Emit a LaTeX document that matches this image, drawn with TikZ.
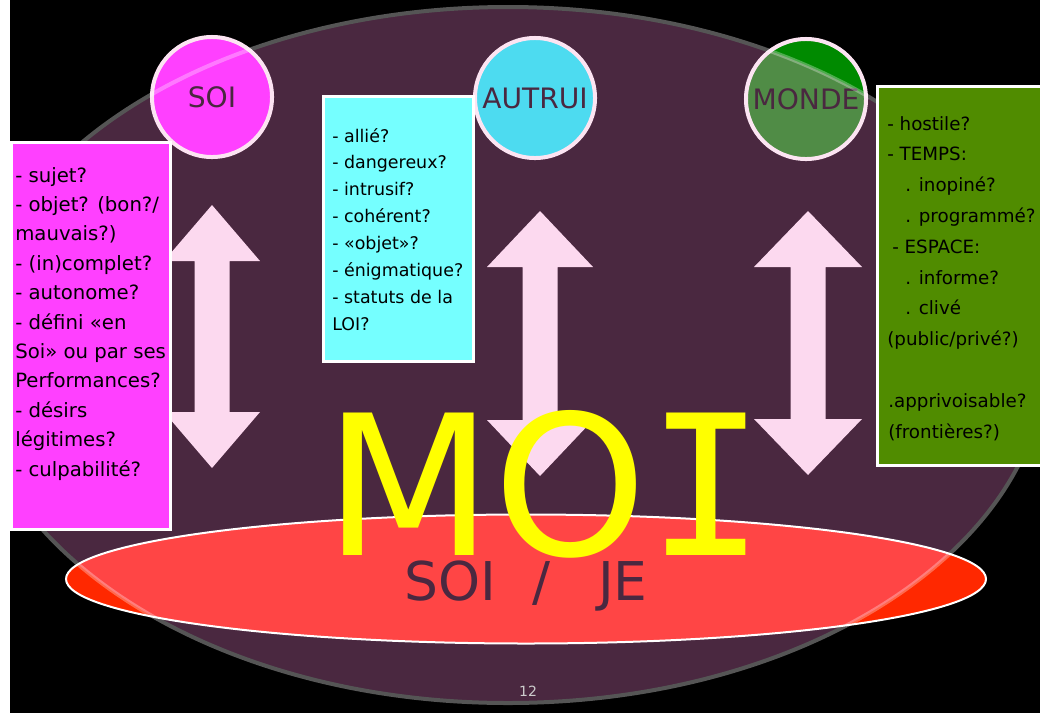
\documentclass[tikz,border=0pt]{standalone}
\usepackage{fontspec}
\setmainfont{DejaVu Sans}
\newfontfamily\moimono{DejaVu Sans Mono}
\definecolor{bgpurple}{HTML}{4A2840}
\definecolor{rimgray}{HTML}{555555}
\definecolor{arrowpink}{HTML}{FCD9EF}
\definecolor{ringpink}{HTML}{FCE4F2}
\definecolor{soimagenta}{HTML}{FF40FF}
\definecolor{autruicyan}{HTML}{4DDBF0}
\definecolor{autruibox}{HTML}{75FFFF}
\definecolor{mondegreen}{HTML}{008A00}
\definecolor{mondeinner}{HTML}{508C46}
\definecolor{mondebox}{HTML}{508C00}
\definecolor{jered}{HTML}{FF2800}
\definecolor{jeinner}{HTML}{FF4545}
\definecolor{moiyellow}{HTML}{FFFF00}
\definecolor{numgray}{HTML}{CCCCCC}
\begin{document}
    \begin{tikzpicture}[x=0.025cm, y=-0.025cm,
        pole/.style={circle, draw=ringpink, line width=0.1cm, minimum size=3cm, inner sep=0pt, text=bgpurple, font=\fontsize{20}{20}\selectfont},
        listbox/.style={draw=white, line width=0.075cm, inner sep=0pt},
        listline/.style={anchor=base west, inner sep=0pt, text=black}]
        \useasboundingbox (0,0) rectangle (1040,713);
        \clip (0,0) rectangle (1040,713);
        \fill[black] (0,0) rectangle (1040,713);
        \fill[bgpurple] (508,355) ellipse [x radius=538, y radius=348];
        \draw[rimgray, line width=0.1cm] (508,355) ellipse [x radius=538, y radius=348];
        \foreach \ax/\ya/\yb/\hw in {212/205/468/48, 540/211/476/53, 808/211/475/54}
            \fill[arrowpink] (\ax,\ya) -- ({\ax+\hw},{\ya+56}) -- ({\ax+17.5},{\ya+56}) -- ({\ax+17.5},{\yb-56}) -- ({\ax+\hw},{\yb-56}) -- (\ax,\yb) -- ({\ax-\hw},{\yb-56}) -- ({\ax-17.5},{\yb-56}) -- ({\ax-17.5},{\ya+56}) -- ({\ax-\hw},{\ya+56}) -- cycle;
        \fill[jered] (526,579) ellipse [x radius=460, y radius=64.5];
        \fill[mondegreen] (806,99) circle [radius=60];
        \begin{scope}
            \clip (508,355) ellipse [x radius=538, y radius=348];
            \fill[jeinner] (526,579) ellipse [x radius=460, y radius=64.5];
            \fill[mondeinner] (806,99) circle [radius=60];
        \end{scope}
        \draw[white, line width=0.05cm] (526,579) ellipse [x radius=460, y radius=64.5];
        \node[pole, fill=soimagenta] (soi) at (212,97) {SOI};
        \node[pole, fill=autruicyan] (autrui) at (535,98) {AUTRUI};
        \node[pole] (monde) at (806,99) {MONDE};
        \foreach \cx/\cy/\rx/\ry in {526/579/460/64.5, 212/97/62/62, 806/99/62/62}
        {
            \begin{scope}
                \clip (\cx,\cy) ellipse [x radius=\rx, y radius=\ry];
                \draw[white, opacity=0.3, line width=0.1cm] (508,355) ellipse [x radius=538, y radius=348];
            \end{scope}
        }
        \node[listbox, fill=soimagenta, minimum width=3.95cm, minimum height=9.65cm] (soilist) at (91,336) {};
        \node[listbox, fill=autruibox, minimum width=3.725cm, minimum height=6.6cm] (autruilist) at (398.5,229) {};
        \node[listbox, fill=mondebox, minimum width=4.175cm, minimum height=9.45cm] (mondelist) at (961.5,276) {};
        \foreach \txt [count=\i] in {- sujet?, {- objet? (bon?/}, mauvais?), - (in)complet?, - autonome?, - défini «en, Soi» ou par ses, Performances?, - désirs, légitimes?, - culpabilité?}
            \node[listline, font=\fontsize{14}{14}\selectfont] (soiline\i) at (15,{182+(\i-1)*29.4}) {\txt};
        \foreach \txt [count=\i] in {- allié?, - dangereux?, - intrusif?, - cohérent?, - «objet»?, - énigmatique?, - statuts de la, LOI?}
            \node[listline, font=\fontsize{12.4}{12.4}\selectfont] (autruiline\i) at (332,{142+(\i-1)*26.9}) {\txt};
        \foreach \lx/\k/\txt in {887/0/{- hostile?}, 887/1/{- TEMPS:}, 905/2/{. inopiné?}, 905/3/{. programmé?}, 892/4/{- ESPACE:}, 905/5/{. informe?}, 905/6/{. clivé}, 887/7/{(public/privé?)}, 888/9/{.apprivoisable?}, 888/10/{(frontières?)}}
            \node[listline, font=\fontsize{13}{13}\selectfont] (mondeline\k) at (\lx,{130+\k*30.8}) {\txt};
        \node[text=moiyellow, anchor=base, inner sep=0pt, font=\fontsize{139}{139}\selectfont] (moi) at (545,555) {MO{\moimono I}};
        \node[text=bgpurple, anchor=base, inner sep=0pt, font=\fontsize{38}{38}\selectfont] (soije) at (526,600) {SOI\hspace{0.9cm}/\hspace{1.2cm}JE};
        \node[text=numgray, font=\fontsize{10}{10}\selectfont] (pagenum) at (528,691) {12};
        \fill[white] (0,0) rectangle (10,713);
    \end{tikzpicture}
\end{document}
